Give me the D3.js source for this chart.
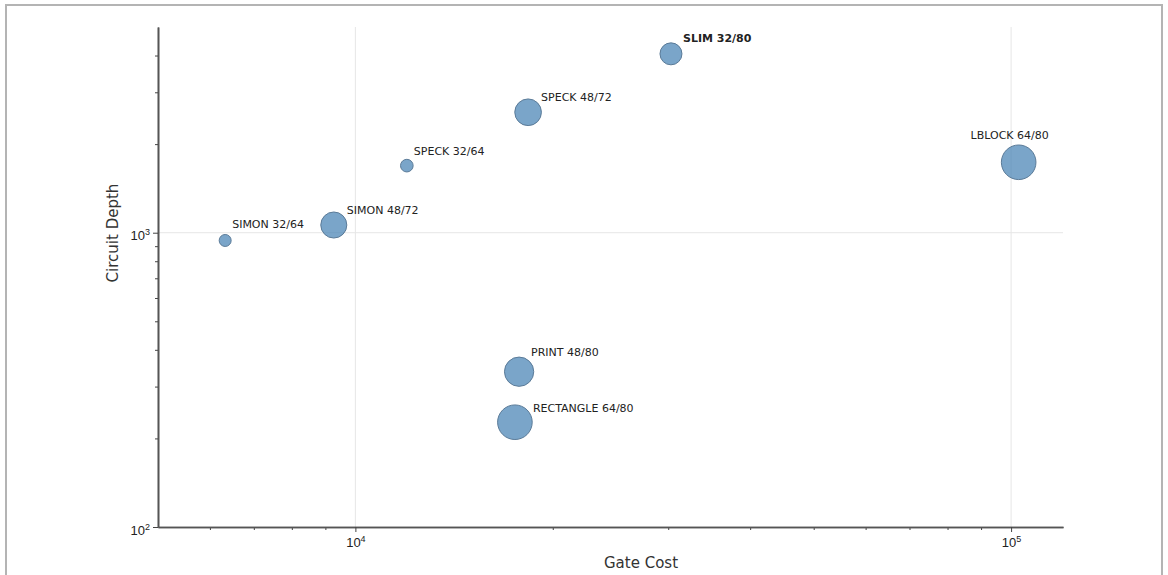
<!DOCTYPE html>
<html>
<head>
<meta charset="utf-8">
<script src="https://cdn.jsdelivr.net/npm/d3@7"></script>
<style>
  body { margin: 0; background: #fff; }
  svg { display: block; font-family: "DejaVu Sans", sans-serif; }
</style>
</head>
<body>
<div id="chart"></div>
<script>
// ---- data ----
const ciphers = ["SIMON 32/64", "SIMON 48/72", "SPECK 32/64", "SPECK 48/72", "SLIM 32/80", "LBLOCK 64/80", "PRINT 48/80", "RECTANGLE 64/80"];
const gateCost = [6330, 9270, 11980, 18340, 30290, 102700, 17770, 17510];
const circuitDepth = [941, 1062, 1690, 2566, 4053, 1735, 337, 227];
const bubbleSize = [36, 170, 40, 178, 121, 300, 215, 300];
const xTicks = [1e4, 1e5];
const yTicks = [1e2, 1e3];
const highlight = "SLIM 32/80";

// label placement (px from bubble centre)
const labelDx = [7, 13, 7, 13, 12, -9, 12, 18];
const labelDy = [-12, -11, -11, -11, -12, -23, -16, -10];
const labelAnchor = ["start", "start", "start", "start", "start", "middle", "start", "start"];

const W = 1168, H = 575;
const m = { left: 158, right: 1063, top: 27, bottom: 527 };

const svg = d3.select("#chart").append("svg")
  .attr("width", W).attr("height", H);

// outer frame of the screenshot
svg.append("path")
  .attr("d", `M6,${H} V5 H1162 V${H}`)
  .attr("fill", "none").attr("stroke", "#b4b4b4").attr("stroke-width", 2);

const x = d3.scaleLog().domain([5000, 120000]).range([m.left, m.right]);
const y = d3.scaleLog().domain([100, 5000]).range([m.bottom, m.top]);
const r = d3.scaleSqrt().domain([0, 300]).range([0, 17.3]);

// grid
svg.append("g").selectAll("line").data(xTicks).join("line")
  .attr("x1", d => x(d)).attr("x2", d => x(d))
  .attr("y1", m.top).attr("y2", m.bottom)
  .attr("stroke", "#e6e6e6").attr("stroke-width", 1);
svg.append("g").selectAll("line").data([1e3]).join("line")
  .attr("x1", m.left).attr("x2", m.right)
  .attr("y1", d => y(d)).attr("y2", d => y(d))
  .attr("stroke", "#e6e6e6").attr("stroke-width", 1);

// minor ticks (log decades)
const xMinor = x.ticks().filter(d => !xTicks.includes(d) && d > 5000 && d < 1e5);
const yMinor = y.ticks().filter(d => !yTicks.includes(d) && d < 5000);

const xAxis = svg.append("g").attr("transform", `translate(0,${m.bottom})`);
xAxis.call(d3.axisBottom(x).tickValues(xMinor).tickSize(3).tickSizeOuter(0).tickFormat(""));
const xMaj = xAxis.append("g").call(d3.axisBottom(x).tickValues(xTicks).tickSize(5).tickSizeOuter(0).tickFormat(""));

const yAxis = svg.append("g").attr("transform", `translate(${m.left},0)`);
yAxis.call(d3.axisLeft(y).tickValues(yMinor).tickSize(3).tickSizeOuter(0).tickFormat(""));
const yMaj = yAxis.append("g").call(d3.axisLeft(y).tickValues(yTicks).tickSize(5).tickSizeOuter(0).tickFormat(""));

svg.selectAll(".domain").attr("stroke", "#555").attr("stroke-width", 1.6);
svg.selectAll(".tick line").attr("stroke", "#444");

// power-of-ten labels with superscript
function powLabel(sel) {
  sel.each(function(d) {
    const t = d3.select(this);
    t.text("");
    t.append("tspan").text("10");
    t.append("tspan").attr("font-size", 9).attr("dy", "-0.55em")
      .text(Math.round(Math.log10(d)));
  });
}
xMaj.selectAll(".tick text").attr("y", 20).attr("dy", null)
  .attr("font-size", 13).attr("fill", "#222").call(powLabel);
yMaj.selectAll(".tick text").attr("x", -8).attr("dy", "0.55em")
  .attr("font-size", 13).attr("fill", "#222").call(powLabel);

// axis titles
svg.append("text").attr("x", 641).attr("y", 568).attr("text-anchor", "middle")
  .attr("font-size", 15).attr("fill", "#333").text("Gate Cost");
svg.append("text").attr("transform", "translate(118,233) rotate(-90)")
  .attr("text-anchor", "middle").attr("font-size", 15).attr("fill", "#333")
  .text("Circuit Depth");

// bubbles
const pts = ciphers.map((c, i) => ({ name: c, gc: gateCost[i], cd: circuitDepth[i], s: bubbleSize[i], i }));

svg.append("g").selectAll("circle").data(pts).join("circle")
  .attr("cx", d => x(d.gc)).attr("cy", d => y(d.cd)).attr("r", d => r(d.s))
  .attr("fill", "steelblue").attr("fill-opacity", 0.72)
  .attr("stroke", "#5b7b98").attr("stroke-width", 1);

svg.append("g").selectAll("text").data(pts).join("text")
  .attr("x", d => x(d.gc) + labelDx[d.i])
  .attr("y", d => y(d.cd) + labelDy[d.i])
  .attr("text-anchor", d => labelAnchor[d.i])
  .attr("font-size", 11).attr("fill", "#222")
  .attr("font-weight", d => d.name === highlight ? "bold" : "normal")
  .text(d => d.name);
</script>
</body>
</html>
